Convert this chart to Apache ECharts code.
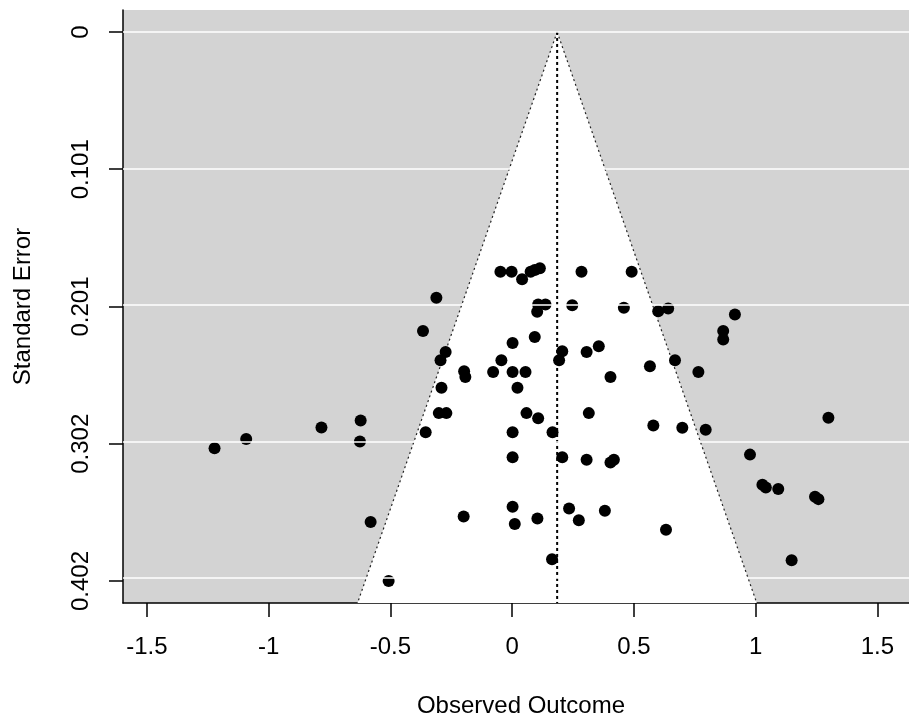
<!DOCTYPE html>
<html>
<head>
<meta charset="utf-8">
<script src="https://cdn.jsdelivr.net/npm/echarts@6/dist/echarts.min.js"></script>
<style>
  html, body { margin: 0; padding: 0; background: #fff; }
  #chart { width: 909px; height: 718px; }
</style>
</head>
<body>
<div id="chart"></div>
<script>
// observed outcomes (x) and their standard errors (y)
let outcome = [
  -0.048, -0.002, 0.041, 0.076, 0.093, 0.114, 0.285, 0.491,
  -0.311, 0.107, 0.137, 0.103, 0.247, 0.459, 0.600, 0.641, 0.915,
  -0.366, 0.093, 0.002, 0.867, 0.867, -0.273, -0.294, -0.044,
  0.206, 0.193, 0.306, 0.356, 0.566, 0.669, -0.197, -0.192,
  -0.078, 0.002, 0.055, 0.404, 0.765, -0.290, 0.022, -0.301,
  -0.270, 0.059, 0.107, 0.315, 1.299, -0.355, 0.002, 0.166,
  0.580, 0.699, 0.795, 0.002, 0.206, 0.306, 0.404, 0.418,
  0.977, 1.028, 1.042, 1.093, 1.244, 1.258, 0.002, -0.199,
  0.011, 0.104, 0.234, 0.274, 0.381, 0.632, 0.164, 1.148,
  -1.222, -1.092, -0.783, -0.622, -0.625, -0.581, -0.507
];
let stdErr = [
  0.1756, 0.1756, 0.1812, 0.1756, 0.1744, 0.1731, 0.1756, 0.1756,
  0.1947, 0.1996, 0.1996, 0.2050, 0.2001, 0.2021, 0.2045, 0.2025, 0.2069,
  0.2190, 0.2234, 0.2278, 0.2190, 0.2253, 0.2344, 0.2405, 0.2405,
  0.2339, 0.2405, 0.2344, 0.2302, 0.2449, 0.2405, 0.2486, 0.2528,
  0.2491, 0.2491, 0.2491, 0.2528, 0.2491, 0.2606, 0.2606, 0.2792,
  0.2792, 0.2792, 0.2829, 0.2792, 0.2826, 0.2932, 0.2932, 0.2932,
  0.2883, 0.2900, 0.2914, 0.3116, 0.3116, 0.3133, 0.3153, 0.3133,
  0.3096, 0.3317, 0.3336, 0.3348, 0.3405, 0.3422, 0.3478, 0.3549,
  0.3605, 0.3564, 0.3491, 0.3576, 0.3508, 0.3647, 0.3862, 0.3870,
  0.3050, 0.2981, 0.2898, 0.2846, 0.3000, 0.3590, 0.4022
];
let estimate = 0.185;   // pooled estimate (centre of funnel)
let maxSE = 0.4022;
let seTicks = [0, maxSE * 0.25, maxSE * 0.5, maxSE * 0.75, maxSE];
let seLabels = ['0', '0.101', '0.201', '0.302', '0.402'];
let xTicks = [-1.5, -1, -0.5, 0, 0.5, 1, 1.5];

let chartDom = document.getElementById('chart');
let myChart = echarts.init(chartDom);
let option;

let font = 'Liberation Sans, Arial, sans-serif';
let yMin = -0.04 * maxSE;
let yMax = 1.04 * maxSE;
let points = outcome.map(function (v, i) { return [v, stdErr[i]]; });

option = {
    animation: false,
    grid: {
        left: 123, right: 0, top: 10, bottom: 115,
        outerBoundsMode: 'none',
        containLabel: false,
        show: true, backgroundColor: '#d3d3d3', borderWidth: 0
    },
    xAxis: {
        type: 'value',
        min: -1.598, max: 1.63,
        name: 'Observed Outcome',
        nameLocation: 'middle',
        nameGap: 91,
        nameTextStyle: { fontFamily: font, fontSize: 24, color: '#000', padding: [0, 0, 0, 10] },
        axisLine: { onZero: false, lineStyle: { color: '#000', width: 1.5 } },
        axisTick: { customValues: xTicks, length: 14, lineStyle: { color: '#000', width: 1.5 } },
        axisLabel: {
            customValues: xTicks, margin: 32,
            fontFamily: font, fontSize: 24, color: '#000'
        },
        splitLine: { show: false }
    },
    yAxis: {
        type: 'value',
        inverse: true,
        min: yMin, max: yMax,
        name: 'Standard Error',
        nameLocation: 'middle',
        nameGap: 88,
        nameRotate: 90,
        nameTextStyle: { fontFamily: font, fontSize: 24, color: '#000' },
        axisLine: { onZero: false, lineStyle: { color: '#000', width: 1.5 } },
        axisTick: { customValues: seTicks, length: 14, lineStyle: { color: '#000', width: 1.5 } },
        axisLabel: {
            customValues: seTicks, rotate: 90, margin: 30,
            fontFamily: font, fontSize: 24, color: '#000',
            formatter: function (v) {
                let best = 0;
                seTicks.forEach(function (t, i) {
                    if (Math.abs(t - v) < Math.abs(seTicks[best] - v)) best = i;
                });
                return seLabels[best];
            }
        },
        splitLine: { show: false }
    },
    series: [
        {
            // white horizontal reference lines at the SE ticks
            type: 'line',
            data: [],
            z: 1,
            markLine: {
                silent: true,
                symbol: 'none',
                label: { show: false },
                lineStyle: { color: '#fff', width: 1.5, type: 'solid' },
                data: seTicks.map(function (t) { return { yAxis: t }; })
            }
        },
        {
            // funnel region + pseudo-confidence limits
            type: 'custom',
            z: 2,
            silent: true,
            data: [[estimate, 0]],
            renderItem: function (params, api) {
                let half = 1.96 * yMax;
                let apex = api.coord([estimate, 0]);
                let bl = api.coord([estimate - half, yMax]);
                let br = api.coord([estimate + half, yMax]);
                let bc = api.coord([estimate, yMax]);
                let dots = { stroke: '#222', lineWidth: 1.2, lineDash: [2, 3] };
                return {
                    type: 'group',
                    children: [
                        { type: 'polygon', shape: { points: [apex, bl, br] }, style: { fill: '#fff' } },
                        { type: 'line', shape: { x1: apex[0], y1: apex[1], x2: bl[0], y2: bl[1] }, style: dots },
                        { type: 'line', shape: { x1: apex[0], y1: apex[1], x2: br[0], y2: br[1] }, style: dots },
                        { type: 'line', shape: { x1: apex[0], y1: apex[1], x2: bc[0], y2: bc[1] },
                          style: { stroke: '#000', lineWidth: 2, lineDash: [3, 3] } }
                    ]
                };
            }
        },
        {
            type: 'scatter',
            z: 3,
            symbol: 'circle',
            symbolSize: 12,
            itemStyle: { color: '#000', opacity: 1 },
            data: points
        }
    ]
};

option && myChart.setOption(option);
</script>
</body>
</html>
